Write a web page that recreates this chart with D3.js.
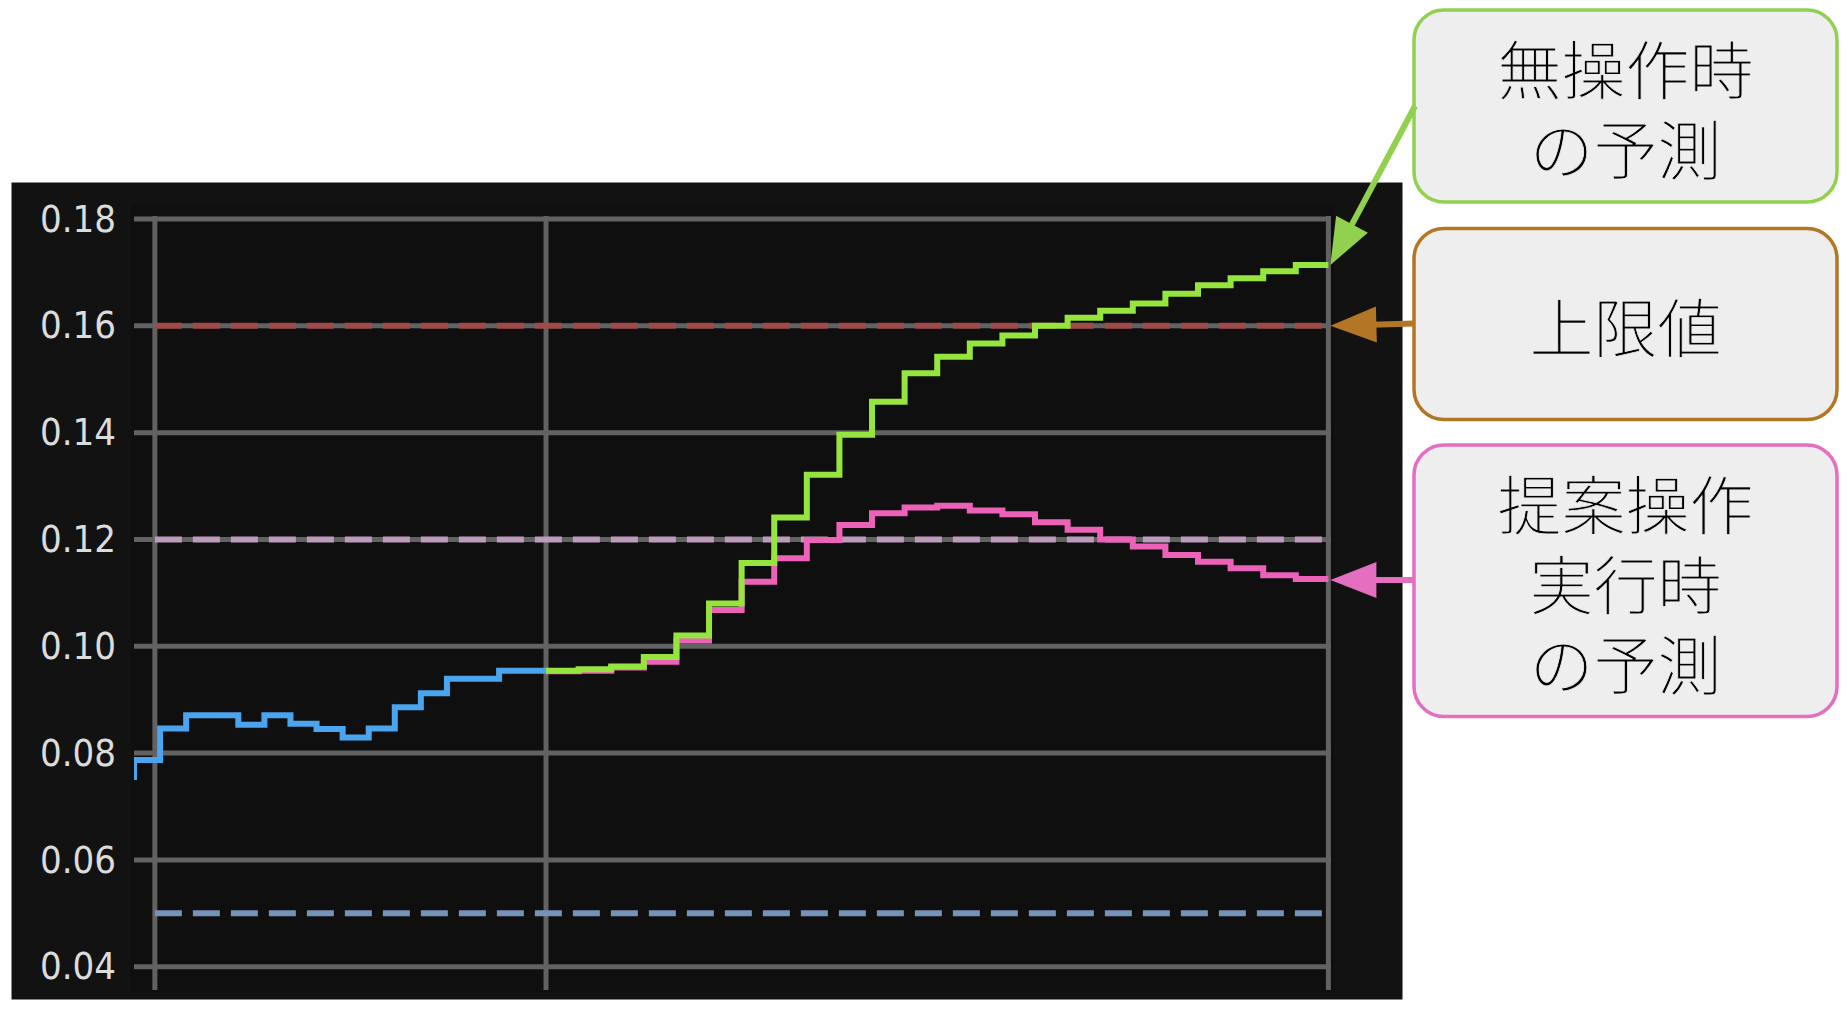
<!DOCTYPE html>
<html>
<head>
<meta charset="utf-8">
<script src="https://cdn.jsdelivr.net/npm/d3@7"></script>
<style>
  html, body { margin: 0; padding: 0; background: #fff; }
  svg { display: block; }
</style>
</head>
<body>
<div id="chart"></div>
<script>
// time in minutes, 0 = now
const pastTimes = [-67.2, -63.2, -59.2, -55.2, -51.2, -47.2, -43.2, -39.2, -35.2,
  -31.2, -27.2, -23.2, -19.2, -15.2, -11.2, -7.2, -3.2];
const pastValues = [0.0755, 0.0787, 0.0846, 0.0871, 0.0871, 0.0853, 0.0871, 0.0855, 0.0845,
  0.0829, 0.0846, 0.0886, 0.0912, 0.0939, 0.0939, 0.0954, 0.0954];

const futureTimes = [0, 5, 10, 15, 20, 25, 30, 35, 40, 45, 50, 55,
  60, 65, 70, 75, 80, 85, 90, 95, 100, 105, 110, 115];
const noActionValues = [0.0954, 0.0957, 0.0962, 0.0980, 0.1020, 0.1080, 0.1156, 0.1241,
  0.1321, 0.1396, 0.1458, 0.1511, 0.1542, 0.1567, 0.1582, 0.1600,
  0.1615, 0.1628, 0.1642, 0.1660, 0.1676, 0.1689, 0.1702, 0.1714];
const proposedValues = [0.0953, 0.0954, 0.0960, 0.0971, 0.1011, 0.1068, 0.1121, 0.1165,
  0.1199, 0.1227, 0.1249, 0.1260, 0.1263, 0.1254, 0.1247, 0.1232,
  0.1218, 0.1200, 0.1187, 0.1171, 0.1158, 0.1146, 0.1133, 0.1126];

const yTicks = [0.04, 0.06, 0.08, 0.10, 0.12, 0.14, 0.16, 0.18];
const xGrid = [-60, 0, 120];
const endTime = 120;

const refLines = [
  { value: 0.16, color: "#a04a4a" },   // 上限値
  { value: 0.12, color: "#bb9cbc" },
  { value: 0.05, color: "#7792b8" }
];

const labels = [
  { lines: ["無操作時", "の予測"], color: "#92d050" },
  { lines: ["上限値"], color: "#b27624" },
  { lines: ["提案操作", "実行時", "の予測"], color: "#e46fc1" }
];

const width = 1848;
const height = 1012;

const svg = d3.select("#chart").append("svg")
  .attr("width", width)
  .attr("height", height);

// dark panel
svg.append("rect")
  .attr("x", 11.5).attr("y", 182.5)
  .attr("width", 1391).attr("height", 817)
  .attr("fill", "#121212");
svg.append("rect")
  .attr("x", 131).attr("y", 205)
  .attr("width", 1203).attr("height", 787)
  .attr("fill", "#0f0f0f");

const x = d3.scaleLinear().domain([-63.2, 120.4]).range([134, 1331]);
const y = d3.scaleLinear().domain([0.04, 0.18]).range([966.7, 219]);

const g = svg.append("g");

// grid
g.selectAll(".hgrid").data(yTicks).enter().append("line")
  .attr("class", "hgrid")
  .attr("x1", x.range()[0]).attr("x2", x.range()[1])
  .attr("y1", (d) => y(d)).attr("y2", (d) => y(d))
  .attr("stroke", "#626262")
  .attr("stroke-width", 5);

g.selectAll(".vgrid").data(xGrid).enter().append("line")
  .attr("class", "vgrid")
  .attr("x1", (d) => x(d)).attr("x2", (d) => x(d))
  .attr("y1", 216).attr("y2", 990)
  .attr("stroke", "#626262")
  .attr("stroke-width", 5);

// reference dashed lines
g.selectAll(".ref").data(refLines).enter().append("line")
  .attr("class", "ref")
  .attr("x1", x(-60)).attr("x2", x(endTime))
  .attr("y1", (d) => y(d.value)).attr("y2", (d) => y(d.value))
  .attr("stroke", (d) => d.color)
  .attr("stroke-width", 6)
  .attr("stroke-dasharray", "27,11");

// y axis labels
const yAxis = g.append("g")
  .attr("transform", `translate(${x.range()[0]},0)`)
  .call(d3.axisLeft(y).tickValues(yTicks).tickFormat(d3.format(".2f")).tickSize(0).tickPadding(18));
yAxis.select(".domain").remove();
yAxis.selectAll("text")
  .attr("fill", "#dcdcdc")
  .style("font-family", "'DejaVu Sans Condensed', 'DejaVu Sans', sans-serif")
  .style("font-stretch", "condensed")
  .style("font-size", "38px");

// series
svg.append("clipPath").attr("id", "plotclip")
  .append("rect")
  .attr("x", x.range()[0]).attr("y", 200)
  .attr("width", x.range()[1] - x.range()[0]).attr("height", 800);

const line = d3.line()
  .x((d) => x(d[0]))
  .y((d) => y(d[1]))
  .curve(d3.curveStepAfter);

function steps(times, values, end) {
  const pts = times.map((t, i) => [t, values[i]]);
  pts.push([end, values[values.length - 1]]);
  return pts;
}

const series = [
  { pts: steps(pastTimes, pastValues, 0), color: "#4ba4ee" },
  { pts: steps(futureTimes, proposedValues, endTime), color: "#ec62b8" },
  { pts: steps(futureTimes, noActionValues, endTime), color: "#96e43e" }
];

g.append("g").attr("clip-path", "url(#plotclip)")
  .selectAll("path").data(series).enter().append("path")
  .attr("d", (d) => line(d.pts))
  .attr("fill", "none")
  .attr("stroke", (d) => d.color)
  .attr("stroke-width", 6)
  .attr("stroke-linejoin", "miter")
  .attr("stroke-linecap", "butt");

// annotation boxes
const boxX = 1414;
const boxW = 423;
const boxes = [
  { y: 10, h: 192 },
  { y: 228.5, h: 191 },
  { y: 445, h: 271.5 }
];

const ann = svg.append("g");
labels.forEach((lab, i) => {
  const b = boxes[i];
  ann.append("rect")
    .attr("x", boxX).attr("y", b.y)
    .attr("width", boxW).attr("height", b.h)
    .attr("rx", 30).attr("ry", 30)
    .attr("fill", "#eeeeee")
    .attr("stroke", lab.color)
    .attr("stroke-width", 3.5);
  const cy = b.y + b.h / 2;
  const n = lab.lines.length;
  const txt = ann.append("text")
    .attr("text-anchor", "middle")
    .attr("dominant-baseline", "central")
    .style("font-family", "'Noto Sans CJK JP', sans-serif")
    .style("font-size", "64px")
    .style("font-weight", 300)
    .attr("fill", "#000")
    .attr("stroke", "#eeeeee")
    .attr("stroke-width", 0.8);
  lab.lines.forEach((s, j) => {
    txt.append("tspan")
      .attr("x", boxX + boxW / 2)
      .attr("y", cy + (j - (n - 1) / 2) * 80)
      .text(s);
  });
});

// arrows from boxes to line ends
function arrow(from, tip, color) {
  const dx = tip[0] - from[0];
  const dy = tip[1] - from[1];
  const len = Math.sqrt(dx * dx + dy * dy);
  const ux = dx / len, uy = dy / len;
  const headLen = 46, halfW = 18;
  const bx = tip[0] - ux * headLen, by = tip[1] - uy * headLen;
  ann.append("line")
    .attr("x1", from[0]).attr("y1", from[1])
    .attr("x2", bx + ux * 4).attr("y2", by + uy * 4)
    .attr("stroke", color)
    .attr("stroke-width", 6);
  ann.append("polygon")
    .attr("points", [
      [tip[0], tip[1]],
      [bx - uy * halfW, by + ux * halfW],
      [bx + uy * halfW, by - ux * halfW]
    ].map((p) => p.join(",")).join(" "))
    .attr("fill", color);
}

const tipX = x(endTime) + 2;
arrow([boxX + 1, boxes[0].y + boxes[0].h / 2], [tipX, y(noActionValues[noActionValues.length - 1])], labels[0].color);
arrow([boxX, boxes[1].y + boxes[1].h / 2 - 0.5], [tipX, y(0.16)], labels[1].color);
arrow([boxX, y(proposedValues[proposedValues.length - 1]) + 1], [tipX, y(proposedValues[proposedValues.length - 1]) + 1], labels[2].color);
</script>
</body>
</html>
